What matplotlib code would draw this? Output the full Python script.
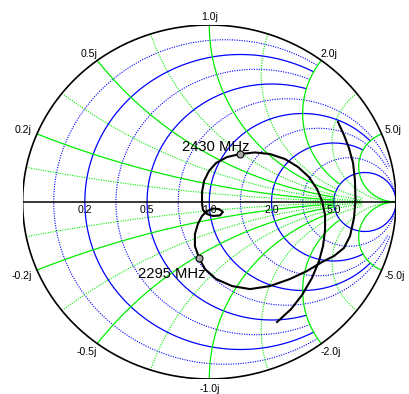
import numpy as np
import matplotlib
matplotlib.use("Agg")
import matplotlib.pyplot as plt

plt.rcParams['font.family'] = ['Liberation Sans', 'DejaVu Sans']

# ---------------- data ----------------
# reflection coefficient trace (real / imag parts), in sweep order
gamma_re = [0.689, 0.721, 0.748, 0.770, 0.780, 0.783, 0.775, 0.754, 0.721, 0.668,
            0.604, 0.523, 0.432, 0.325, 0.218, 0.122, 0.036, -0.023, -0.055, -0.077,
            -0.077, -0.061, -0.039, -0.012, 0.020, 0.052, 0.073, 0.057, 0.020, -0.012,
            -0.034, -0.039, -0.039, -0.028, -0.002, 0.036, 0.095, 0.164, 0.245, 0.325,
            0.405, 0.475, 0.534, 0.577, 0.604, 0.620, 0.620, 0.609, 0.588, 0.550,
            0.497, 0.438, 0.363]
gamma_im = [0.452, 0.379, 0.305, 0.220, 0.124, 0.011, -0.090, -0.192, -0.260, -0.305,
            -0.339, -0.390, -0.435, -0.475, -0.492, -0.475, -0.435, -0.379, -0.316, -0.249,
            -0.181, -0.124, -0.079, -0.051, -0.037, -0.040, -0.056, -0.076, -0.079, -0.068,
            -0.045, -0.006, 0.056, 0.119, 0.175, 0.220, 0.254, 0.271, 0.280, 0.271,
            0.243, 0.198, 0.141, 0.073, 0.006, -0.073, -0.158, -0.249, -0.333, -0.429,
            -0.525, -0.605, -0.678]

marker_labels = ['2430 MHz', '2295 MHz']
marker_re = [0.164, -0.055]
marker_im = [0.271, -0.316]

major_r = [0.2, 0.5, 1.0, 2.0, 5.0]
major_r_xmax = [2.0, 2.0, 5.0, 5.0, np.inf]
major_x = [0.2, 0.5, 1.0, 2.0, 5.0]
major_x_rmax = [5.0, 5.0, 5.0, 5.0, np.inf]

minor_r = [1 / 11, 1 / 3, 5 / 7, 1.4, 3.0]
minor_r_xmax = [2.0, 2.0, 10.0, 10.0, np.inf]
minor_x = [0.099, 0.343, 0.722, 1.385, 2.92]
minor_x_rmax = [10.0, 10.0, 10.0, 10.0, np.inf]

r_labels = ['0.2', '0.5', '1.0', '2.0', '5.0']
x_labels_pos = ['0.2j', '0.5j', '1.0j', '2.0j', '5.0j']
x_labels_neg = ['-0.2j', '-0.5j', '-1.0j', '-2.0j', '-5.0j']

# ---------------- figure ----------------
W, H = 409, 394
fig = plt.figure(figsize=(W / 100, H / 100), dpi=100)
ax = fig.add_axes([22.6 / W, 15 / H, 373.4 / W, 354 / H])
ax.set_xlim(-1, 1)
ax.set_ylim(-1, 1)
ax.axis('off')

BLUE = '#0000ff'
GREEN = '#00ee00'


def z2g(z):
    return (z - 1) / (z + 1)


def r_circle(r, xmax):
    u = np.linspace(-np.arctan(xmax), np.arctan(xmax), 600)
    g = z2g(r + 1j * np.tan(u))
    return g.real, g.imag


def x_arc(x, rmax):
    u = np.linspace(0, np.arctan(rmax), 600)
    g = z2g(np.tan(u) + 1j * x)
    return g.real, g.imag


minor_kw = dict(lw=0.8, ls=(0, (1, 1.2)), zorder=1)
major_kw = dict(lw=0.9, ls='-', zorder=2)

for r, xm in zip(minor_r, minor_r_xmax):
    ax.plot(*r_circle(r, xm), color=BLUE, **minor_kw)
for x, rm in zip(minor_x, minor_x_rmax):
    for s in (1, -1):
        ax.plot(*x_arc(s * x, rm), color=GREEN, **minor_kw)
for r, xm in zip(major_r, major_r_xmax):
    ax.plot(*r_circle(r, xm), color=BLUE, **major_kw)
for x, rm in zip(major_x, major_x_rmax):
    for s in (1, -1):
        ax.plot(*x_arc(s * x, rm), color=GREEN, **major_kw)

# outer circle and real axis
t = np.linspace(0, 2 * np.pi, 800)
ax.plot(np.cos(t), np.sin(t), color='black', lw=1.2, zorder=4)
ax.plot([-1, 1], [0, 0], color='black', lw=1.1, zorder=4)

# labels
fs = 7.6
for r, lab in zip(major_r, r_labels):
    g = z2g(r)
    ax.annotate(lab, (g.real, 0), xytext=(0, -5.8), textcoords='offset points',
                ha='center', va='center', fontsize=fs, zorder=6)

pos_off = [(-3.6, 0.7, 'right'), (0, 2.4, 'right'), (0, 3.6, 'center'),
           (-0.9, 2.4, 'left'), (2.4, 0.7, 'left')]
for x, lp, ln, (dx, dy, ha) in zip(major_x, x_labels_pos, x_labels_neg, pos_off):
    g = z2g(1j * x)
    ax.annotate(lp, (g.real, g.imag), xytext=(dx, dy), textcoords='offset points',
                ha=ha, va='baseline', fontsize=fs, zorder=6)
    ax.annotate(ln, (g.real, -g.imag), xytext=(dx, -dy + 0.3), textcoords='offset points',
                ha=ha, va='top', fontsize=fs, zorder=6)

# trace
ax.plot(gamma_re, gamma_im, color='black', lw=1.5, zorder=7, solid_joinstyle='round')
ax.plot(marker_re, marker_im, 'o', ms=5, mfc='#a8a8a8', mec='black', mew=0.8, zorder=8)

lab_off = [(7.2, 2.5), (5.0, -14.4)]
for lab, xr, xi, (dx, dy) in zip(marker_labels, marker_re, marker_im, lab_off):
    ax.annotate(lab, (xr, xi), xytext=(dx, dy), textcoords='offset points',
                ha='right', va='baseline', fontsize=10.6, zorder=9)

fig.savefig('out.png', dpi=100)
